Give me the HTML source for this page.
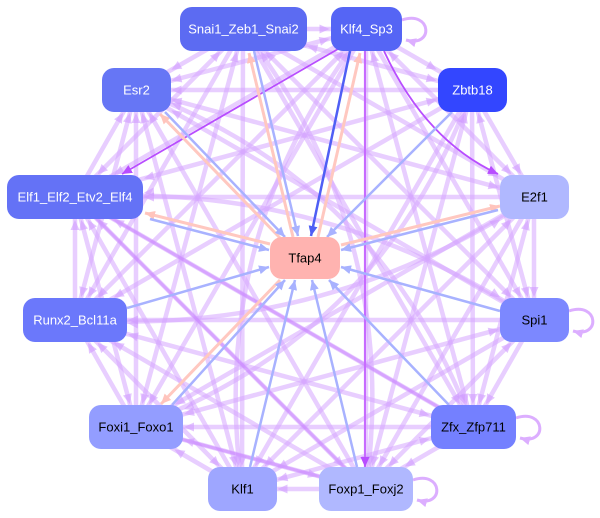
<!DOCTYPE html>
<html><head><meta charset="utf-8"><style>
html,body{margin:0;padding:0;background:#fff;}
svg{display:block;}
text{font-family:"Liberation Sans",Arial,sans-serif;font-size:13px;text-anchor:middle;}
</style></head><body>
<svg width="600" height="518" viewBox="0 0 600 518" xmlns="http://www.w3.org/2000/svg">
<defs>
<marker id="mb" markerUnits="userSpaceOnUse" markerWidth="11" markerHeight="10" refX="10" refY="4.5" orient="auto"><path d="M0,0L10,4.5L0,9z" fill="#a8b2ff"/></marker>
<marker id="mbd" markerUnits="userSpaceOnUse" markerWidth="11" markerHeight="10" refX="10" refY="4.5" orient="auto"><path d="M0,0L10,4.5L0,9z" fill="#4f5ff5"/></marker>
<marker id="mp" markerUnits="userSpaceOnUse" markerWidth="11" markerHeight="10" refX="10" refY="4.5" orient="auto"><path d="M0,0L10,4.5L0,9z" fill="#ffc4bc"/></marker>
<marker id="md" markerUnits="userSpaceOnUse" markerWidth="11" markerHeight="10" refX="10" refY="4.5" orient="auto"><path d="M0,0L10,4.5L0,9z" fill="#b84dff"/></marker>
<marker id="ml" markerUnits="userSpaceOnUse" markerWidth="11" markerHeight="10" refX="10" refY="4.5" orient="auto"><path d="M0,0L10,4.5L0,9z" fill="#dcaeff"/></marker>
</defs>

<g stroke="rgb(214,166,255)" stroke-opacity="0.55" stroke-width="4.5" fill="none">
<line x1="243" y1="29" x2="366" y2="29"/>
<line x1="243" y1="29" x2="472" y2="90"/>
<line x1="243" y1="29" x2="534" y2="197"/>
<line x1="243" y1="29" x2="534" y2="320"/>
<line x1="243" y1="29" x2="473" y2="427"/>
<line x1="243" y1="29" x2="242" y2="489"/>
<line x1="243" y1="29" x2="136" y2="427"/>
<line x1="243" y1="29" x2="75" y2="320"/>
<line x1="243" y1="29" x2="75" y2="197"/>
<line x1="243" y1="29" x2="136" y2="90"/>
<line x1="366" y1="29" x2="472" y2="90"/>
<line x1="366" y1="29" x2="534" y2="197"/>
<line x1="366" y1="29" x2="534" y2="320"/>
<line x1="366" y1="29" x2="473" y2="427"/>
<line x1="366" y1="29" x2="366" y2="489"/>
<line x1="366" y1="29" x2="136" y2="427"/>
<line x1="366" y1="29" x2="75" y2="320"/>
<line x1="366" y1="29" x2="75" y2="197"/>
<line x1="366" y1="29" x2="136" y2="90"/>
<line x1="472" y1="90" x2="534" y2="197"/>
<line x1="472" y1="90" x2="534" y2="320"/>
<line x1="472" y1="90" x2="473" y2="427"/>
<line x1="472" y1="90" x2="366" y2="489"/>
<line x1="472" y1="90" x2="242" y2="489"/>
<line x1="472" y1="90" x2="75" y2="320"/>
<line x1="472" y1="90" x2="75" y2="197"/>
<line x1="472" y1="90" x2="136" y2="90"/>
<line x1="534" y1="197" x2="534" y2="320"/>
<line x1="534" y1="197" x2="473" y2="427"/>
<line x1="534" y1="197" x2="366" y2="489"/>
<line x1="534" y1="197" x2="242" y2="489"/>
<line x1="534" y1="197" x2="136" y2="427"/>
<line x1="534" y1="197" x2="75" y2="197"/>
<line x1="534" y1="197" x2="136" y2="90"/>
<line x1="534" y1="320" x2="473" y2="427"/>
<line x1="534" y1="320" x2="366" y2="489"/>
<line x1="534" y1="320" x2="242" y2="489"/>
<line x1="534" y1="320" x2="136" y2="427"/>
<line x1="534" y1="320" x2="75" y2="320"/>
<line x1="534" y1="320" x2="136" y2="90"/>
<line x1="473" y1="427" x2="366" y2="489"/>
<line x1="473" y1="427" x2="242" y2="489"/>
<line x1="473" y1="427" x2="136" y2="427"/>
<line x1="473" y1="427" x2="75" y2="320"/>
<line x1="473" y1="427" x2="75" y2="197"/>
<line x1="366" y1="489" x2="242" y2="489"/>
<line x1="366" y1="489" x2="136" y2="427"/>
<line x1="366" y1="489" x2="75" y2="320"/>
<line x1="366" y1="489" x2="75" y2="197"/>
<line x1="366" y1="489" x2="136" y2="90"/>
<line x1="242" y1="489" x2="136" y2="427"/>
<line x1="242" y1="489" x2="75" y2="320"/>
<line x1="242" y1="489" x2="75" y2="197"/>
<line x1="242" y1="489" x2="136" y2="90"/>
<line x1="136" y1="427" x2="75" y2="320"/>
<line x1="136" y1="427" x2="75" y2="197"/>
<line x1="136" y1="427" x2="136" y2="90"/>
<line x1="75" y1="320" x2="75" y2="197"/>
<line x1="75" y1="320" x2="136" y2="90"/>
<line x1="75" y1="197" x2="136" y2="90"/>
<path d="M243 29Q401 233 366 489"/>
<path d="M366 29Q207 233 242 489"/>
<path d="M136 90Q382 181 473 427"/>
<path d="M472 90Q382 336 136 427"/>
<path d="M75 197Q325 181 534 320"/>
<path d="M75 320Q325 336 534 197"/>
</g>

<g stroke="rgb(200,130,255)" stroke-opacity="0.55" stroke-width="3" fill="none">
<line x1="75" y1="197" x2="366" y2="489"/>
<line x1="136" y1="427" x2="366" y2="489"/>
<line x1="75" y1="197" x2="473" y2="427"/>
</g>

<g stroke="#dcaeff" stroke-width="3" fill="none" marker-end="url(#ml)">
<path d="M402 20C432 10 434 48 406 40"/>
<path d="M569 311C599 301 601 339 573 331"/>
<path d="M516 418C546 408 548 446 520 438"/>
<path d="M413 480C443 470 445 508 417 500"/>
</g>

<g id="ah" fill="rgb(208,156,255)" fill-opacity="0.6"></g>

<g stroke="#b84dff" stroke-width="1.8" fill="none" marker-end="url(#md)">
<line x1="338" y1="49" x2="122" y2="174"/>
<path d="M384 51Q425 140 498 174"/>
</g>
<line x1="365" y1="51" x2="365" y2="467" stroke="#c76bff" stroke-width="2" marker-end="url(#md)"/>

<g stroke="#ffc8c0" stroke-width="3" fill="none" marker-end="url(#mp)">
<line x1="293" y1="237" x2="249" y2="53"/>
<line x1="318" y1="237" x2="360" y2="53"/>
<line x1="280" y1="238" x2="160" y2="114"/>
<line x1="270" y1="244" x2="145" y2="213"/>
<line x1="341" y1="245" x2="500" y2="206"/>
<line x1="280" y1="280" x2="161" y2="404"/>
</g>

<g stroke="#a8b2ff" stroke-width="2.5" fill="none" marker-end="url(#mb)">
<line x1="254" y1="51" x2="298" y2="236"/>
<line x1="165" y1="112" x2="285" y2="237"/>
<line x1="150" y1="219" x2="269" y2="250"/>
<line x1="452" y1="112" x2="327" y2="237"/>
<line x1="498" y1="210" x2="341" y2="250"/>
<line x1="500" y1="311" x2="341" y2="267"/>
<line x1="127" y1="308" x2="269" y2="267"/>
<line x1="172" y1="405" x2="285" y2="280"/>
<line x1="250" y1="467" x2="295" y2="280"/>
<line x1="357" y1="467" x2="312" y2="280"/>
<line x1="449" y1="405" x2="329" y2="280"/>
</g>
<line x1="350" y1="51" x2="311" y2="236" stroke="#4f5ff5" stroke-width="2.5" marker-end="url(#mbd)"/>

<g>
<rect x="180" y="7" width="127" height="44" rx="12" fill="#5c6bf2"/>
<text x="243.5" y="33.5" fill="#fff">Snai1_Zeb1_Snai2</text>
<rect x="331" y="7" width="71" height="44" rx="12" fill="#5565f5"/>
<text x="366.5" y="33.5" fill="#fff">Klf4_Sp3</text>
<rect x="438" y="68" width="69" height="44" rx="12" fill="#3346ff"/>
<text x="472.5" y="94.5" fill="#fff">Zbtb18</text>
<rect x="500" y="175" width="69" height="44" rx="12" fill="#b0b8ff"/>
<text x="534.5" y="201.5" fill="#000">E2f1</text>
<rect x="500" y="298" width="69" height="44" rx="12" fill="#7c88ff"/>
<text x="534.5" y="324.5" fill="#000">Spi1</text>
<rect x="431" y="405" width="85" height="44" rx="12" fill="#7480ff"/>
<text x="473.5" y="431.5" fill="#000">Zfx_Zfp711</text>
<rect x="319" y="467" width="94" height="44" rx="12" fill="#b0b8ff"/>
<text x="366" y="493.5" fill="#000">Foxp1_Foxj2</text>
<rect x="208" y="467" width="69" height="44" rx="12" fill="#9ea6ff"/>
<text x="242.5" y="493.5" fill="#000">Klf1</text>
<rect x="89" y="405" width="94" height="44" rx="12" fill="#939dff"/>
<text x="136" y="431.5" fill="#000">Foxi1_Foxo1</text>
<rect x="23" y="298" width="104" height="44" rx="12" fill="#6b78fb"/>
<text x="75" y="324.5" fill="#fff">Runx2_Bcl11a</text>
<rect x="7" y="175" width="136" height="44" rx="12" fill="#6472f6"/>
<text x="75" y="201.5" fill="#fff">Elf1_Elf2_Etv2_Elf4</text>
<rect x="102" y="68" width="69" height="44" rx="12" fill="#6676f5"/>
<text x="136.5" y="94.5" fill="#fff">Esr2</text>
<rect x="270" y="237" width="70" height="42" rx="12" fill="#ffb3b0"/>
<text x="305" y="262.5" fill="#000">Tfap4</text>
</g>
</svg>
<script>
(function(){
var C=[[243,29,63.5,22],[366,29,35.5,22],[472,90,34.5,22],[534,197,34.5,22],[534,320,34.5,22],[473,427,42.5,22],[366,489,47,22],[242,489,34.5,22],[136,427,47,22],[75,320,52,22],[75,197,68,22],[136,90,34.5,22]];
var D={"0-6":[401,233],"1-7":[207,233],"5-11":[382,181],"2-8":[382,336],"4-10":[325,181],"3-9":[325,336]};
var g=document.getElementById('ah'),s='';
function ah(j,fx,fy){var n=C[j],dx=fx-n[0],dy=fy-n[1],L=Math.sqrt(dx*dx+dy*dy),ux=dx/L,uy=dy/L;
var t=Math.min(n[2]/Math.max(Math.abs(ux),1e-6),n[3]/Math.max(Math.abs(uy),1e-6));
var tx=n[0]+ux*(t+1),ty=n[1]+uy*(t+1);
var bx=tx+ux*10,by=ty+uy*10,px=-uy*4.5,py=ux*4.5;
s+='<polygon points="'+tx.toFixed(1)+','+ty.toFixed(1)+' '+(bx+px).toFixed(1)+','+(by+py).toFixed(1)+' '+(bx-px).toFixed(1)+','+(by-py).toFixed(1)+'"/>';}
for(var i=0;i<12;i++)for(var j=i+1;j<12;j++){var c=D[i+'-'+j];var fi=c||C[i],fj=c||C[j];
ah(j,fi[0],fi[1]);if((i+j)%2==0)ah(i,fj[0],fj[1]);}
g.innerHTML=s;
})();
</script>
</body></html>
